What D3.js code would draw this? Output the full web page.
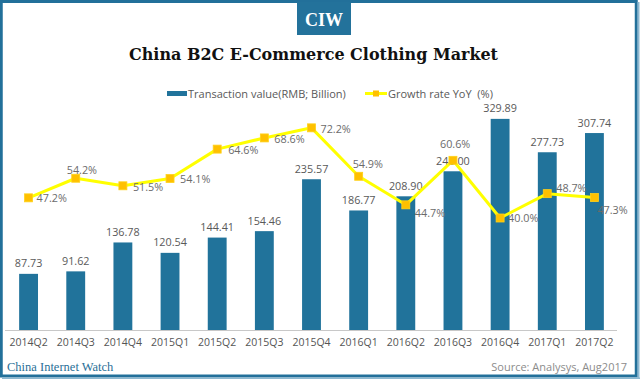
<!DOCTYPE html>
<html>
<head>
<meta charset="utf-8">
<script src="https://cdn.jsdelivr.net/npm/d3@7"></script>
<style>
  html, body { margin: 0; padding: 0; background: #fff; }
  svg { display: block; }
</style>
</head>
<body>
<div id="chart"></div>
<script>
// ---- data ----
const quarters = ["2014Q2","2014Q3","2014Q4","2015Q1","2015Q2","2015Q3","2015Q4","2016Q1","2016Q2","2016Q3","2016Q4","2017Q1","2017Q2"];
const transactionValue = [87.73, 91.62, 136.78, 120.54, 144.41, 154.46, 235.57, 186.77, 208.90, 248.00, 329.89, 277.73, 307.74];
const growthRate = [47.2, 54.2, 51.5, 54.1, 64.6, 68.6, 72.2, 54.9, 44.7, 60.6, 40.0, 48.7, 47.3];
const seriesNames = ["Transaction value(RMB; Billion)", "Growth rate YoY  (%)"];

// label offsets for growth-rate labels (relative to marker) – layout only
const pctLabelOffset = [[8,4],[-9,-4],[10,5],[10,4],[11,5],[10,5],[9,5],[-6,-8],[9,12],[-13,-12],[8,4],[9,-2],[3,16]];

const W = 640, H = 379;
const barColor = "#21739b";
const frameColor = "#22709a";

const svg = d3.select("#chart").append("svg").attr("width", W).attr("height", H);

// frame
svg.append("rect").attr("x",0).attr("y",0).attr("width",W).attr("height",H).attr("fill","#fff");
svg.append("rect").attr("x",1.25).attr("y",1.5).attr("width",W-5).attr("height",H-4.5)
  .attr("fill","none").attr("stroke",frameColor).attr("stroke-width",3);
svg.append("line").attr("x1",638.5).attr("x2",638.5).attr("y1",2).attr("y2",H).attr("stroke","#8db8d0").attr("stroke-width",2);
svg.append("line").attr("x1",2).attr("x2",W).attr("y1",378.3).attr("y2",378.3).attr("stroke","#8db8d0").attr("stroke-width",1.5);

// CIW badge
svg.append("rect").attr("x",297).attr("y",2).attr("width",54).attr("height",33).attr("fill","#23729b");
svg.append("text").attr("x",324).attr("y",25.5).attr("text-anchor","middle")
  .attr("font-family","'Liberation Serif', serif").attr("font-weight","bold").attr("font-size",18)
  .attr("fill","#fff").text("CIW");

// title
svg.append("text").attr("x",129).attr("y",59.5)
  .attr("font-family","'DejaVu Serif', serif").attr("font-weight","bold").attr("font-size",17)
  .attr("fill","#111").attr("textLength",369).attr("lengthAdjust","spacingAndGlyphs")
  .text("China B2C E-Commerce Clothing Market");

// scales
const x = d3.scaleBand().domain(quarters).range([5, 618]).paddingInner(0.6).paddingOuter(0.3);
const yBar = d3.scaleLinear().domain([0, 350]).range([330, 106]);
const yPct = d3.scaleLinear().domain([0, 80]).range([330, 106]);

const labelFont = "'Open Sans', sans-serif";

// bars
svg.append("g").selectAll("rect").data(transactionValue).join("rect")
  .attr("x", (d,i) => x(quarters[i]))
  .attr("y", d => yBar(d))
  .attr("width", x.bandwidth())
  .attr("height", d => yBar(0) - yBar(d))
  .attr("fill", barColor);

// bar labels
svg.append("g").selectAll("text").data(transactionValue).join("text")
  .attr("x", (d,i) => x(quarters[i]) + x.bandwidth()/2)
  .attr("y", d => yBar(d) - 6.5)
  .attr("text-anchor","middle")
  .attr("font-family", labelFont).attr("font-size",10.8).attr("fill","#595959")
  .text(d => d.toFixed(2));

// x axis
const xAxis = d3.axisBottom(x).tickSize(0).tickPadding(9);
const gx = svg.append("g").attr("transform","translate(0,330)").call(xAxis);
gx.select(".domain").attr("stroke","#c8c8c8").attr("d","M5,0.5H617");
gx.selectAll("text").attr("font-family", labelFont).attr("font-size",10.5).attr("fill","#555");

// growth line
const cx = (i) => x(quarters[i]) + x.bandwidth()/2;
const line = d3.line().x((d,i) => cx(i)).y(d => yPct(d));
svg.append("path").datum(growthRate).attr("d", line)
  .attr("fill","none").attr("stroke","#ffff00").attr("stroke-width",3).attr("stroke-linejoin","round");

svg.append("g").selectAll("rect").data(growthRate).join("rect")
  .attr("x",(d,i) => cx(i) - 4).attr("y", d => yPct(d) - 4)
  .attr("width",8).attr("height",8)
  .attr("fill","#ffc000").attr("stroke","#ffd21a").attr("stroke-width",0.8);

svg.append("g").selectAll("text").data(growthRate).join("text")
  .attr("x",(d,i) => cx(i) + pctLabelOffset[i][0])
  .attr("y",(d,i) => yPct(d) + pctLabelOffset[i][1])
  .attr("font-family", labelFont).attr("font-size",10.8).attr("fill","#6b6b6b")
  .text(d => d.toFixed(1) + "%");

// legend
const lg = svg.append("g");
lg.append("rect").attr("x",167).attr("y",91).attr("width",20).attr("height",5).attr("fill",barColor);
lg.append("text").attr("x",188).attr("y",97.5).attr("font-family",labelFont).attr("font-size",11)
  .attr("fill","#595959").text(seriesNames[0]);
lg.append("line").attr("x1",365).attr("x2",387).attr("y1",93.5).attr("y2",93.5)
  .attr("stroke","#ffff00").attr("stroke-width",3);
lg.append("rect").attr("x",373).attr("y",90.5).attr("width",6).attr("height",6).attr("fill","#ffc000");
lg.append("text").attr("x",388).attr("y",97.5).attr("font-family",labelFont).attr("font-size",11)
  .attr("fill","#595959").attr("xml:space","preserve").style("white-space","pre").text(seriesNames[1]);

// footer
svg.append("text").attr("x",7).attr("y",370.5)
  .attr("font-family","'Liberation Serif', serif").attr("font-size",12.5).attr("fill","#2a6f97")
  .text("China Internet Watch");
svg.append("text").attr("x",627).attr("y",370.5).attr("text-anchor","end")
  .attr("font-family",labelFont).attr("font-size",11).attr("fill","#8c8c8c")
  .text("Source: Analysys, Aug2017");
</script>
</body>
</html>
